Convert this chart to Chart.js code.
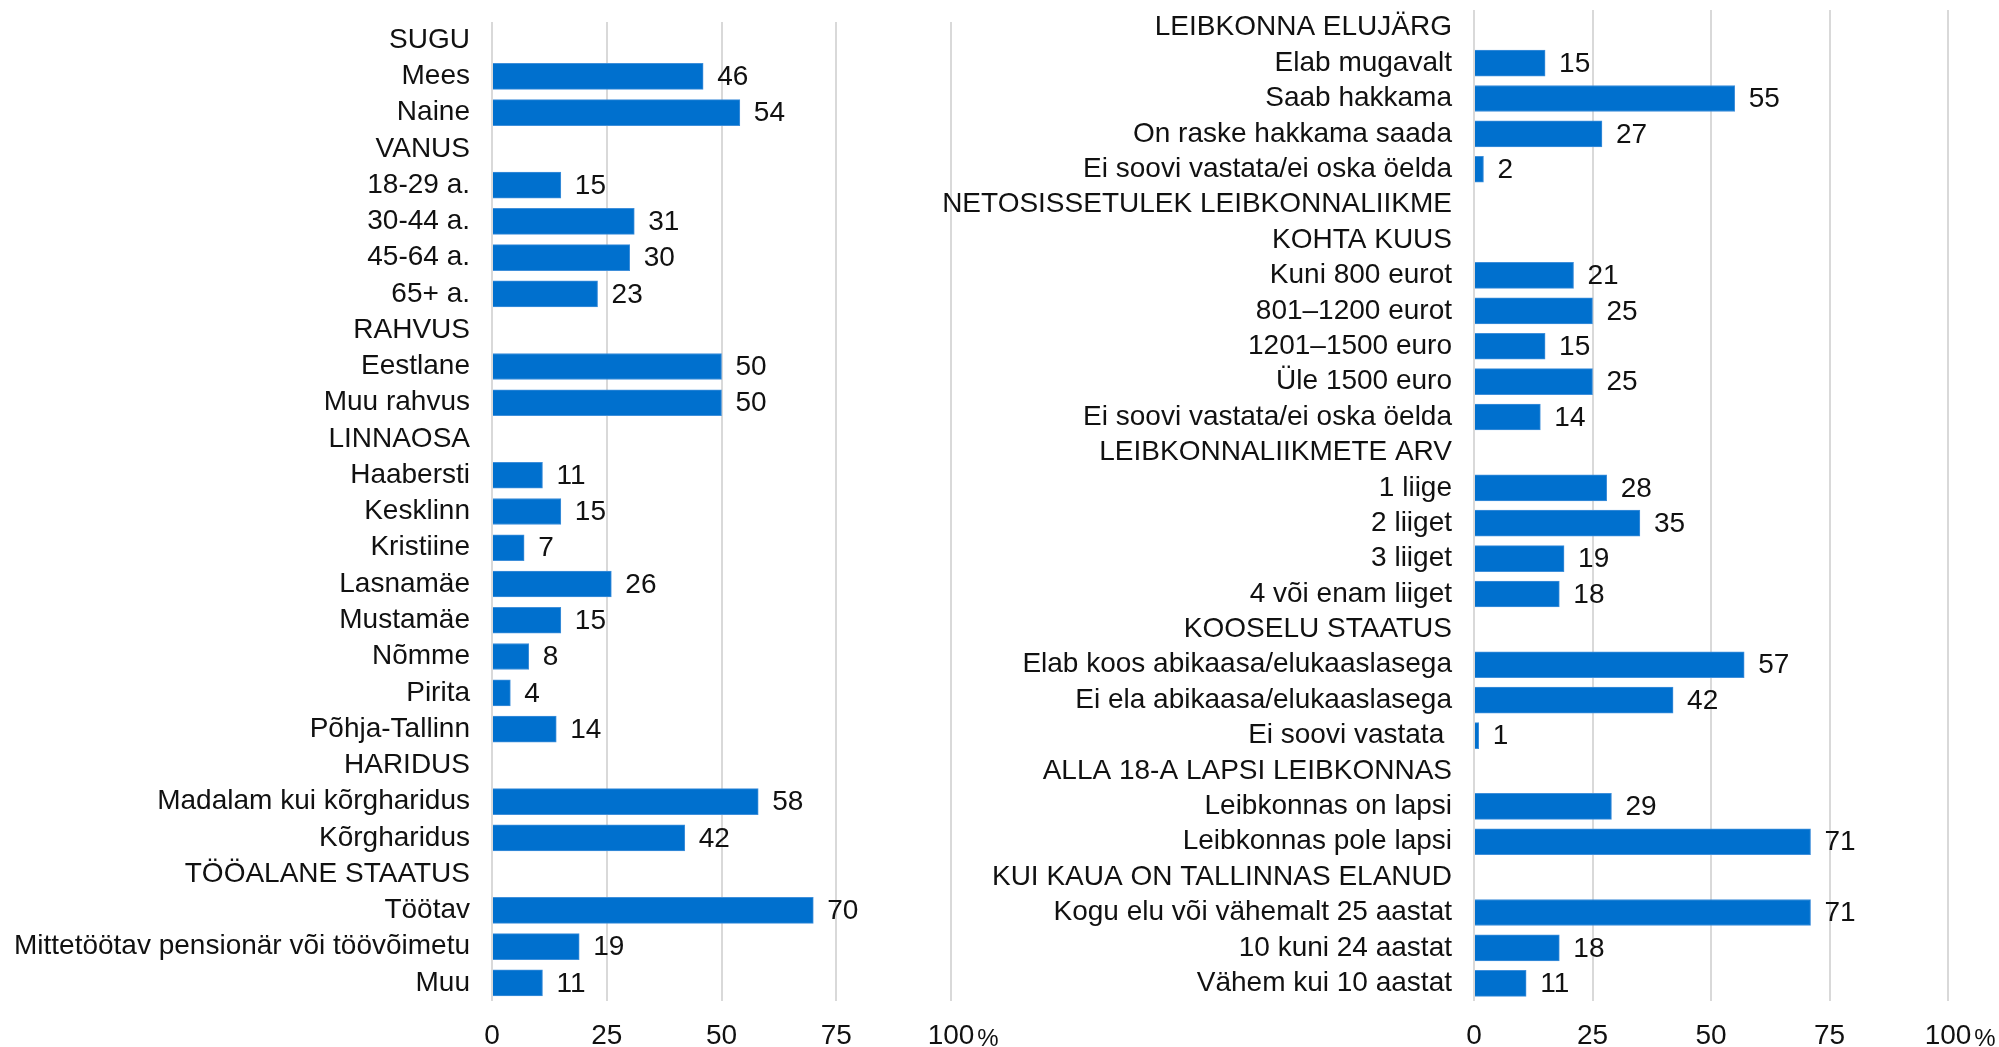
<!DOCTYPE html>
<html>
<head>
<meta charset="utf-8">
<script src="https://cdn.jsdelivr.net/npm/chart.js@4.4.1/dist/chart.umd.min.js"></script>
<style>
  html, body { margin: 0; padding: 0; background: #ffffff; }
  body { width: 1999px; height: 1047px; position: relative; overflow: hidden; }
  canvas { position: absolute; top: 0; }
  #leftChart { left: 0; }
  #rightChart { left: 930px; }
</style>
</head>
<body>
<canvas id="leftChart" width="1000" height="1047"></canvas>
<canvas id="rightChart" width="1069" height="1047"></canvas>
<script>
// ---- Data ----
const leftCategories = [
  "SUGU", "Mees", "Naine",
  "VANUS", "18-29 a.", "30-44 a.", "45-64 a.", "65+ a.",
  "RAHVUS", "Eestlane", "Muu rahvus",
  "LINNAOSA", "Haabersti", "Kesklinn", "Kristiine", "Lasnamäe", "Mustamäe", "Nõmme", "Pirita", "Põhja-Tallinn",
  "HARIDUS", "Madalam kui kõrgharidus", "Kõrgharidus",
  "TÖÖALANE STAATUS", "Töötav", "Mittetöötav pensionär või töövõimetu", "Muu"
];
const leftValues = [
  null, 46, 54,
  null, 15, 31, 30, 23,
  null, 50, 50,
  null, 11, 15, 7, 26, 15, 8, 4, 14,
  null, 58, 42,
  null, 70, 19, 11
];

const rightCategories = [
  "LEIBKONNA ELUJÄRG", "Elab mugavalt", "Saab hakkama", "On raske hakkama saada", "Ei soovi vastata/ei oska öelda",
  "NETOSISSETULEK LEIBKONNALIIKME", "KOHTA KUUS",
  "Kuni 800 eurot", "801–1200 eurot", "1201–1500 euro", "Üle 1500 euro", "Ei soovi vastata/ei oska öelda",
  "LEIBKONNALIIKMETE ARV", "1 liige", "2 liiget", "3 liiget", "4 või enam liiget",
  "KOOSELU STAATUS", "Elab koos abikaasa/elukaaslasega", "Ei ela abikaasa/elukaaslasega", "Ei soovi vastata ",
  "ALLA 18-A LAPSI LEIBKONNAS", "Leibkonnas on lapsi", "Leibkonnas pole lapsi",
  "KUI KAUA ON TALLINNAS ELANUD", "Kogu elu või vähemalt 25 aastat", "10 kuni 24 aastat", "Vähem kui 10 aastat"
];
const rightValues = [
  null, 15, 55, 27, 2,
  null, null,
  21, 25, 15, 25, 14,
  null, 28, 35, 19, 18,
  null, 57, 42, 1,
  null, 29, 71,
  null, 71, 18, 11
];

const xTickValues = [0, 25, 50, 75, 100];
const percentSign = "%";

// ---- Styling ----
const FONT_FAMILY = '"Liberation Sans", Arial, sans-serif';
const FONT_SIZE = 28;
const BAR_COLOR = '#0070CE';
const GRID_COLOR = '#D9D9D9';
const TEXT_COLOR = '#111111';

const valueLabels = {
  id: 'valueLabels',
  afterDatasetsDraw(chart) {
    const ctx = chart.ctx;
    const meta = chart.getDatasetMeta(0);
    const data = chart.data.datasets[0].data;
    ctx.save();
    ctx.font = FONT_SIZE + 'px ' + FONT_FAMILY;
    ctx.fillStyle = TEXT_COLOR;
    ctx.textAlign = 'left';
    ctx.textBaseline = 'middle';
    meta.data.forEach((bar, i) => {
      const v = data[i];
      if (v === null || v === undefined || !isFinite(bar.x)) return;
      ctx.fillText(String(v), bar.x + 14, bar.y + 1);
    });
    ctx.restore();
  }
};

const percentLabel = {
  id: 'percentLabel',
  afterDraw(chart) {
    const ctx = chart.ctx;
    const xs = chart.scales.x;
    const maxVal = xTickValues[xTickValues.length - 1];
    const px = xs.getPixelForValue(maxVal);
    ctx.save();
    ctx.font = FONT_SIZE + 'px ' + FONT_FAMILY;
    const w = ctx.measureText(String(maxVal)).width;
    const baseline = xs.top + 18 + FONT_SIZE * 0.6 + FONT_SIZE * 0.36;
    ctx.font = Math.round(FONT_SIZE * 0.85) + 'px ' + FONT_FAMILY;
    ctx.fillStyle = TEXT_COLOR;
    ctx.textAlign = 'left';
    ctx.textBaseline = 'alphabetic';
    ctx.fillText(percentSign, px + w / 2 + 3, baseline);
    ctx.restore();
  }
};

function makeChart(canvasId, categories, values, yAxisWidth, padTop, padRight) {
  return new Chart(document.getElementById(canvasId), {
    type: 'bar',
    data: {
      labels: categories,
      datasets: [{
        data: values,
        backgroundColor: BAR_COLOR,
        borderColor: '#3F8FDA',
        borderWidth: 1,
        barThickness: 26
      }]
    },
    options: {
      indexAxis: 'y',
      responsive: false,
      animation: false,
      devicePixelRatio: 1,
      layout: { padding: { top: padTop, right: padRight, left: 0, bottom: 0 } },
      plugins: {
        legend: { display: false },
        tooltip: { enabled: false },
        title: { display: false }
      },
      scales: {
        x: {
          type: 'linear',
          min: xTickValues[0],
          max: xTickValues[xTickValues.length - 1],
          afterBuildTicks(scale) {
            scale.ticks = xTickValues.map(v => ({ value: v }));
          },
          afterFit(scale) {
            scale.height = 46;
            scale.paddingLeft = 0;
            scale.paddingRight = 0;
          },
          grid: { color: GRID_COLOR, lineWidth: 2, drawTicks: false },
          border: { display: false },
          ticks: {
            padding: 18,
            color: TEXT_COLOR,
            font: { family: FONT_FAMILY, size: FONT_SIZE },
            maxRotation: 0,
            autoSkip: false,
            callback: v => String(v)
          }
        },
        y: {
          type: 'category',
          afterFit(scale) {
            scale.width = yAxisWidth;
            scale.paddingTop = 0;
            scale.paddingBottom = 0;
          },
          grid: { display: false, drawTicks: false },
          border: { display: false },
          ticks: {
            padding: 22,
            color: TEXT_COLOR,
            font: { family: FONT_FAMILY, size: FONT_SIZE },
            autoSkip: false
          }
        }
      }
    },
    plugins: [valueLabels, percentLabel]
  });
}

makeChart('leftChart', leftCategories, leftValues, 492, 22, 49);
makeChart('rightChart', rightCategories, rightValues, 544, 10, 51);
</script>
</body>
</html>
